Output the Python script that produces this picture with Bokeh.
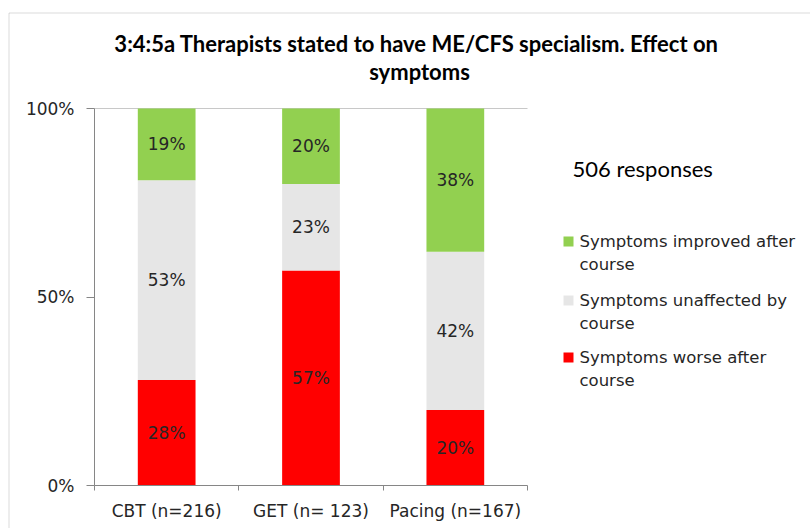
from bokeh.plotting import figure
from bokeh.models import ColumnDataSource, FixedTicker, Label, BoxAnnotation, Range1d
from bokeh.embed import file_html
from bokeh.resources import INLINE

# ---- data ----
categories = ["CBT (n=216)", "GET (n= 123)", "Pacing (n=167)"]
worse = [28, 57, 20]
unaffected = [53, 23, 42]
improved = [19, 20, 38]
series_names = ["Symptoms improved after\ncourse", "Symptoms unaffected by\ncourse", "Symptoms worse after\ncourse"]
y_ticks = [0, 50, 100]
y_tick_labels = ["0%", "50%", "100%"]
responses_note = "506 responses"
title_lines = ["3:4:5a Therapists stated to have ME/CFS specialism. Effect on", "symptoms"]

GREEN = "#92D050"
GREY = "#E6E6E6"
RED = "#FF0000"
AXIS = "#868686"
TXT = "#262626"
FONT = "DejaVu Sans"

W, H = 810, 528
# plot area in page pixels
PL, PR, PT, PB = 94.0, 527.0, 108.0, 485.0
n = len(categories)
XPX = (PR - PL) / n
YPX = (PB - PT) / 100.0
def dx(sx):
    return (sx - PL) / XPX
def dy(sy):
    return (PB - sy) / YPX

xs = [i + 0.5 for i in range(n)]
b1 = worse
b2 = [w + u for w, u in zip(worse, unaffected)]
b3 = [a + g for a, g in zip(b2, improved)]

src = ColumnDataSource(dict(
    x=xs, b1=b1, b2=b2, b3=b3, zero=[0] * n,
    m1=[w / 2 for w in worse],
    m2=[w + u / 2 for w, u in zip(worse, unaffected)],
    m3=[a + g / 2 for a, g in zip(b2, improved)],
    l1=[f"{v}%" for v in worse],
    l2=[f"{v}%" for v in unaffected],
    l3=[f"{v}%" for v in improved],
))

p = figure(width=W, height=H, min_border=0,
           x_range=Range1d(dx(0), dx(W)), y_range=Range1d(dy(H), dy(0)),
           output_backend="svg", toolbar_location=None, tools="")
p.outline_line_color = None
p.background_fill_color = "white"
p.border_fill_color = "white"

# chart border (left/top visible)
p.add_layout(BoxAnnotation(left=dx(8.5), right=dx(W + 20), top=dy(12.5), bottom=dy(H + 20),
                           fill_color=None, line_color=AXIS, line_width=1, level="underlay"))

# top gridline across plot area
p.xgrid.visible = False
p.ygrid.visible = False
p.segment(x0=[0], x1=[n], y0=[y_ticks[-1]], y1=[y_ticks[-1]], line_color="#C8C8C8", line_width=1)

bw = 0.4
p.vbar(x="x", bottom="zero", top="b1", width=bw, source=src, fill_color=RED, line_color=None)
p.vbar(x="x", bottom="b1", top="b2", width=bw, source=src, fill_color=GREY, line_color=None)
p.vbar(x="x", bottom="b2", top="b3", width=bw, source=src, fill_color=GREEN, line_color=None)

for col, ycol in (("l1", "m1"), ("l2", "m2"), ("l3", "m3")):
    p.text(x="x", y=ycol, text=col, source=src, text_align="center", text_baseline="middle",
           text_font_size="17px", text_color=TXT, text_font={"value": FONT})

# axes drawn at fixed locations inside the canvas
xa = p.xaxis[0]
xa.fixed_location = 0
xa.bounds = (0, n)
xa.ticker = FixedTicker(ticks=xs, minor_ticks=list(range(n + 1)))
xa.major_label_overrides = {x: c for x, c in zip(xs, categories)}
xa.major_tick_out = 0
xa.major_tick_in = 0
xa.minor_tick_out = 5
xa.minor_tick_in = 0
xa.axis_line_color = AXIS
xa.minor_tick_line_color = AXIS
xa.major_label_text_font = FONT
xa.major_label_text_font_size = "17px"
xa.major_label_text_color = TXT
xa.major_label_standoff = 10

ya = p.yaxis[0]
ya.fixed_location = 0
ya.bounds = (0, 100)
ya.ticker = FixedTicker(ticks=y_ticks, minor_ticks=[])
ya.major_label_overrides = {t: l for t, l in zip(y_ticks, y_tick_labels)}
ya.major_tick_out = 8
ya.major_tick_in = 0
ya.axis_line_color = AXIS
ya.major_tick_line_color = AXIS
ya.major_label_text_font = FONT
ya.major_label_text_font_size = "17px"
ya.major_label_text_color = TXT
ya.major_label_standoff = 12

# title
p.add_layout(Label(x=dx(416), y=dy(43), text=title_lines[0], text_align="center", text_baseline="middle",
                   text_font="Lato", text_font_style="bold", text_font_size="22px", text_color="#000000"))
p.add_layout(Label(x=dx(419), y=dy(71), text=title_lines[1], text_align="center", text_baseline="middle",
                   text_font="Lato", text_font_style="bold", text_font_size="22px", text_color="#000000"))

# responses note
p.add_layout(Label(x=dx(572), y=dy(168), text=responses_note, text_align="left", text_baseline="middle",
                   text_font="Lato", text_font_size="22px", text_color="#000000"))

# legend (manual)
leg_colors = [GREEN, GREY, RED]
leg_y = [241, 300, 357]
for name, c, ly in zip(series_names, leg_colors, leg_y):
    p.add_layout(BoxAnnotation(left=dx(563), right=dx(573), top=dy(ly - 5), bottom=dy(ly + 5),
                               fill_color=c, fill_alpha=1, line_color=None))
    t1, t2 = name.split("\n")
    p.add_layout(Label(x=dx(579), y=dy(ly), text=t1, text_align="left", text_baseline="middle",
                       text_font=FONT, text_font_size="16.5px", text_color=TXT))
    p.add_layout(Label(x=dx(579), y=dy(ly + 23), text=t2, text_align="left", text_baseline="middle",
                       text_font=FONT, text_font_size="16.5px", text_color=TXT))

open("out.html", "w").write(file_html(p, INLINE))
